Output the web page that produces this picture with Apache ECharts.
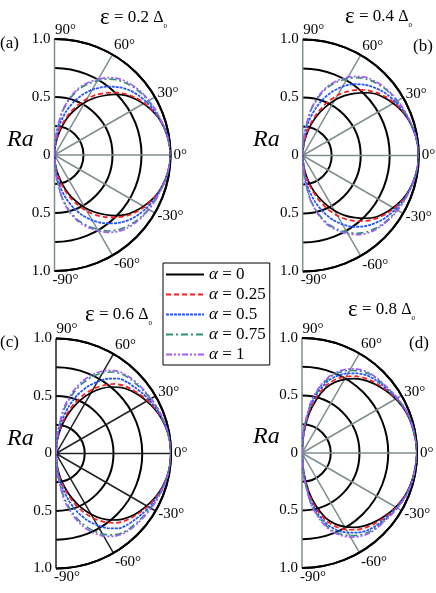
<!DOCTYPE html>
<html>
<head>
<meta charset="utf-8">
<script src="https://cdn.jsdelivr.net/npm/echarts@6/dist/echarts.min.js"></script>
<style>
html, body { margin: 0; padding: 0; background: #fff; }
#main { width: 436px; height: 593px; }
</style>
</head>
<body>
<div id="main"></div>
<script>
// angles read on the upper half; the curves are symmetric about 0
var angles = [90, 85, 80, 75, 70, 65, 60, 55, 50, 45, 40, 35, 30, 25, 20, 15, 10, 5, 0];
var alphaNames = ['α = 0', 'α = 0.25', 'α = 0.5', 'α = 0.75', 'α = 1'];
var epsValues = ['0.2', '0.4', '0.6', '0.8'];
var panelTags = ['(a)', '(b)', '(c)', '(d)'];

// R_a at the angles above, one row per alpha (0, 0.25, 0.5, 0.75, 1)
var rEps02 = [
  [0, 0.08, 0.165, 0.26, 0.355, 0.44, 0.525, 0.60, 0.67, 0.74, 0.80, 0.845, 0.885, 0.92, 0.95, 0.97, 0.985, 0.995, 1],
  [0, 0.095, 0.19, 0.29, 0.39, 0.475, 0.56, 0.635, 0.70, 0.76, 0.815, 0.858, 0.895, 0.926, 0.952, 0.971, 0.985, 0.995, 1],
  [0, 0.14, 0.28, 0.39, 0.49, 0.575, 0.65, 0.715, 0.77, 0.82, 0.86, 0.89, 0.915, 0.937, 0.955, 0.972, 0.986, 0.995, 1],
  [0, 0.19, 0.37, 0.50, 0.60, 0.675, 0.74, 0.80, 0.845, 0.875, 0.90, 0.92, 0.935, 0.948, 0.96, 0.973, 0.986, 0.995, 1],
  [0, 0.20, 0.385, 0.515, 0.615, 0.69, 0.755, 0.815, 0.86, 0.89, 0.91, 0.927, 0.94, 0.952, 0.962, 0.975, 0.987, 0.996, 1]
];
var rEps04 = [
  [0, 0.085, 0.175, 0.275, 0.37, 0.46, 0.55, 0.63, 0.70, 0.765, 0.825, 0.865, 0.90, 0.932, 0.957, 0.974, 0.987, 0.996, 1],
  [0, 0.10, 0.20, 0.305, 0.41, 0.51, 0.60, 0.675, 0.74, 0.795, 0.84, 0.878, 0.91, 0.937, 0.96, 0.975, 0.987, 0.996, 1],
  [0, 0.15, 0.30, 0.415, 0.52, 0.61, 0.685, 0.75, 0.80, 0.84, 0.875, 0.902, 0.925, 0.945, 0.962, 0.976, 0.988, 0.996, 1],
  [0, 0.20, 0.39, 0.52, 0.625, 0.70, 0.765, 0.82, 0.86, 0.888, 0.91, 0.927, 0.94, 0.953, 0.965, 0.977, 0.988, 0.996, 1],
  [0, 0.205, 0.40, 0.535, 0.64, 0.715, 0.78, 0.833, 0.873, 0.898, 0.917, 0.932, 0.945, 0.957, 0.967, 0.978, 0.989, 0.996, 1]
];
var rEps06 = [
  [0, 0.105, 0.21, 0.315, 0.42, 0.52, 0.61, 0.69, 0.755, 0.81, 0.85, 0.882, 0.91, 0.937, 0.96, 0.977, 0.99, 0.997, 1],
  [0, 0.115, 0.23, 0.345, 0.46, 0.56, 0.65, 0.725, 0.79, 0.835, 0.865, 0.893, 0.92, 0.943, 0.963, 0.978, 0.99, 0.997, 1],
  [0, 0.145, 0.29, 0.42, 0.54, 0.64, 0.72, 0.795, 0.85, 0.877, 0.895, 0.915, 0.935, 0.952, 0.967, 0.979, 0.99, 0.997, 1],
  [0, 0.19, 0.38, 0.52, 0.64, 0.735, 0.81, 0.865, 0.90, 0.915, 0.925, 0.937, 0.95, 0.962, 0.972, 0.982, 0.991, 0.997, 1],
  [0, 0.205, 0.41, 0.55, 0.67, 0.76, 0.83, 0.88, 0.91, 0.925, 0.935, 0.945, 0.955, 0.966, 0.975, 0.984, 0.992, 0.997, 1]
];
var rEps08 = [
  [0, 0.17, 0.34, 0.48, 0.60, 0.68, 0.74, 0.79, 0.83, 0.862, 0.89, 0.917, 0.94, 0.96, 0.975, 0.984, 0.99, 0.996, 1],
  [0, 0.185, 0.37, 0.515, 0.63, 0.71, 0.77, 0.815, 0.85, 0.878, 0.90, 0.924, 0.945, 0.963, 0.977, 0.985, 0.99, 0.996, 1],
  [0, 0.205, 0.41, 0.555, 0.67, 0.745, 0.80, 0.845, 0.88, 0.90, 0.915, 0.933, 0.95, 0.967, 0.98, 0.987, 0.991, 0.996, 1],
  [0, 0.22, 0.44, 0.585, 0.70, 0.775, 0.83, 0.872, 0.90, 0.915, 0.925, 0.94, 0.955, 0.97, 0.982, 0.988, 0.992, 0.996, 1],
  [0, 0.228, 0.455, 0.60, 0.715, 0.79, 0.845, 0.885, 0.91, 0.922, 0.93, 0.944, 0.958, 0.972, 0.983, 0.988, 0.992, 0.996, 1]
];
var panelData = [rEps02, rEps04, rEps06, rEps08];

// layout
var panels = [
  { cx: 54.5, cy: 155, r: 116, spoke: '#7f8f8f' },
  { cx: 302.7, cy: 155.5, r: 116, spoke: '#7f8f8f' },
  { cx: 56, cy: 453.5, r: 115, spoke: '#222222' },
  { cx: 302, cy: 453, r: 115, spoke: '#7f8f8f' }
];
var lineStyles = [
  { color: '#000000', width: 1.7, type: 'solid' },
  { color: '#ff1a1a', width: 1.7, type: [5, 3] },
  { color: '#2255ff', width: 1.8, type: [3, 1] },
  { color: '#2f8f72', width: 1.7, type: [7, 3, 2, 3] },
  { color: '#a15cff', width: 1.7, type: [6, 2, 2, 2, 2, 2] }
];
var serif = 'Liberation Serif';

// mirror the upper half onto the lower half: [radius, angle]
function curve(vals) {
  var pts = [];
  for (var i = 0; i < angles.length; i++) pts.push([vals[i], angles[i]]);
  for (var k = angles.length - 2; k >= 0; k--) pts.push([vals[k], -angles[k]]);
  return pts;
}

// rich styles nudging the angle labels
var angleLabelStyle = { '90': 'e', '-90': 'e', '60': 'm', '-60': 'm', '30': 's', '-30': 's' };

var option = {
  backgroundColor: '#fff',
  animation: false,
  polar: panels.map(function (p) { return { center: [p.cx, p.cy], radius: p.r }; }),
  angleAxis: panels.map(function (p, i) {
    return {
      polarIndex: i, type: 'value', min: -90, max: 90, interval: 30,
      startAngle: -90, endAngle: 90, clockwise: false,
      axisLine: { lineStyle: { color: '#000', width: 2 } },
      axisTick: { show: false },
      axisLabel: {
        margin: 3, color: '#000', fontFamily: serif, fontSize: 15,
        formatter: function (v) {
          var k = angleLabelStyle[String(v)];
          return k ? '{' + k + '|' + v + '°}' : v + '°';
        },
        rich: {
          e: { lineHeight: 12, padding: [0, 0, 0, 22] },
          m: { lineHeight: 13 },
          s: { lineHeight: 4 }
        }
      },
      splitLine: { lineStyle: { color: p.spoke, width: 1.5 } }
    };
  }),
  radiusAxis: panels.map(function (p, i) {
    return {
      polarIndex: i, type: 'value', min: 0, max: 1, interval: 0.25,
      axisLine: { show: false }, axisTick: { show: false }, axisLabel: { show: false },
      splitLine: { lineStyle: { color: '#000', width: 2 } }
    };
  }),
  // plain grids only carry the R_a tick labels along the vertical axis
  grid: panels.map(function (p) {
    return { left: p.cx, top: p.cy - p.r, width: 20, height: 2 * p.r, outerBoundsMode: 'none' };
  }),
  xAxis: panels.map(function (p, i) { return { gridIndex: i, type: 'value', show: false }; }),
  yAxis: panels.map(function (p, i) {
    return {
      gridIndex: i, type: 'value', min: -1, max: 1, interval: 0.5,
      axisLine: { show: false }, axisTick: { show: false }, splitLine: { show: false },
      axisLabel: {
        margin: 4, color: '#000', fontFamily: serif, fontSize: 15,
        formatter: function (v) { return v === 0 ? '0' : Math.abs(v).toFixed(1); }
      }
    };
  }),
  legend: {
    orient: 'vertical', left: 163, top: 263,
    data: alphaNames,
    backgroundColor: '#fff', borderColor: '#000', borderWidth: 1,
    padding: [3, 4, 2, 2], itemGap: 3, itemWidth: 38, itemHeight: 14,
    itemStyle: { opacity: 0 },
    textStyle: {
      color: '#000', fontFamily: serif, fontSize: 17,
      rich: { a: { fontStyle: 'italic', fontFamily: serif, fontSize: 17 } }
    },
    formatter: function (n) { return '{a|α}' + n.slice(1); }
  },
  graphic: [],
  series: []
};

var titlePos = [[100, 18], [345, 17], [85, 315], [348, 310]];
var tagPos = [[0, 44], [413, 47], [0, 343], [409, 344]];
var raPos = [[7, 140], [253, 140], [7, 439], [253, 437]];

panels.forEach(function (p, i) {
  panelData[i].forEach(function (vals, j) {
    option.series.push({
      type: 'line', name: alphaNames[j], coordinateSystem: 'polar', polarIndex: i,
      data: curve(vals), symbol: 'none', smooth: 0.2,
      lineStyle: lineStyles[j], itemStyle: { color: lineStyles[j].color }
    });
  });
  option.graphic.push({
    type: 'text', x: titlePos[i][0], y: titlePos[i][1],
    style: {
      text: '{e|ε} = ' + epsValues[i] + ' {d|Δ}{s|0}', verticalAlign: 'middle',
      fill: '#000', fontFamily: serif, fontSize: 17,
      rich: {
        e: { fontSize: 23, fontFamily: serif },
        d: { fontSize: 16, fontFamily: serif },
        s: { fontSize: 7, fontFamily: serif, verticalAlign: 'bottom' }
      }
    }
  });
  option.graphic.push({
    type: 'text', x: tagPos[i][0], y: tagPos[i][1],
    style: { text: panelTags[i], verticalAlign: 'middle', fill: '#000', fontFamily: serif, fontSize: 17 }
  });
  option.graphic.push({
    type: 'text', x: raPos[i][0], y: raPos[i][1],
    style: { text: 'Ra', verticalAlign: 'middle', fill: '#000', fontFamily: serif, fontSize: 24, fontStyle: 'italic' }
  });
});

var chart = echarts.init(document.getElementById('main'));
chart.setOption(option);
</script>
</body>
</html>
